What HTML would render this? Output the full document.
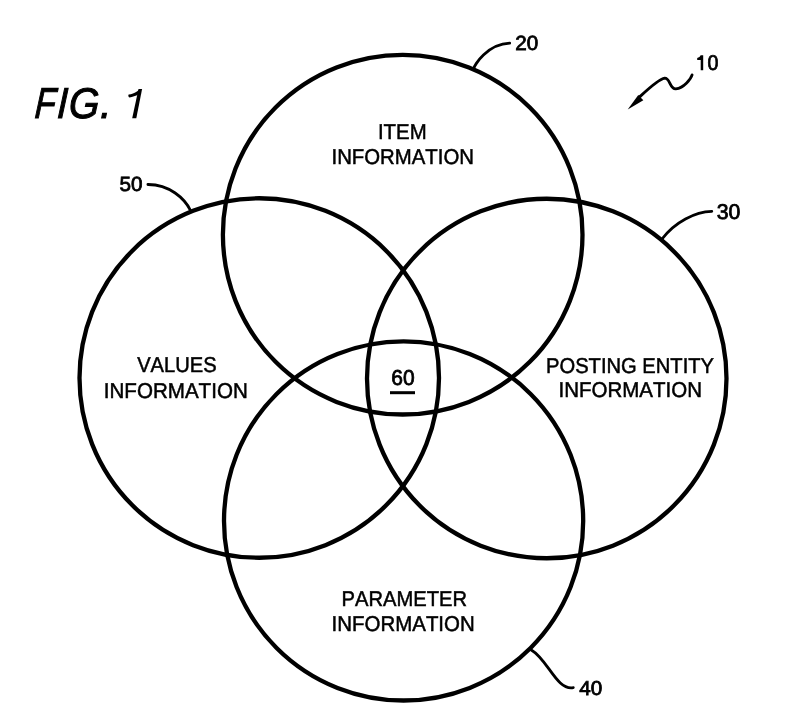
<!DOCTYPE html>
<html><head><meta charset="utf-8">
<style>
html,body{margin:0;padding:0;background:#fff;}
body{width:800px;height:726px;overflow:hidden;}
svg{display:block;will-change:transform;}
text{font-family:"Liberation Sans",sans-serif;fill:#000;font-kerning:none;text-rendering:geometricPrecision;}
.lbl{font-size:21.4px;stroke:#000;stroke-width:0.5px;}
.num{font-size:21.6px;stroke:#000;stroke-width:0.8px;}
.fig{font-size:43.0px;font-style:italic;text-rendering:geometricPrecision;stroke:#000;stroke-width:1.1px;}
</style></head><body>
<svg width="800" height="726" viewBox="0 0 800 726">
<g id="circles" fill="none" stroke="#000" stroke-width="4.3">
<circle cx="402.7" cy="234.7" r="179.8"/>
<circle cx="259.25" cy="378" r="179.75"/>
<circle cx="546.75" cy="378.5" r="179.75"/>
<circle cx="403.6" cy="520.9" r="179.6"/>
</g>
<g id="leaders" fill="none" stroke="#000" stroke-width="2.8" stroke-linecap="round">
<path d="M509.7 43.2 C487.2 44 474.1 65.5 473.8 68.5"/>
<path d="M692.1 74.9 C691 78.7 684.1 88 675.8 88.9 C669.2 88.4 670.3 77.8 664.6 78.1 C658.2 79.1 642.5 94.3 639.5 97"/>
<path d="M711.8 211.4 C695 211.8 675 222 662 239"/>
<path d="M531.3 650 C547.8 659.4 556.6 690.7 573.3 687.6"/>
<path d="M147.9 184.5 C169.5 184.4 184.8 198.6 190.5 210.5"/>
<polygon points="627.7,109.6 638.3,95 643.3,100.2" fill="#000" stroke="none"/>
</g>
<g id="texts">
<text transform="matrix(0.9522 0 0 1 402.27 139.42)" x="0" y="0" text-anchor="middle" class="lbl">ITEM</text>
<text transform="matrix(0.9508 0 0 1 402.71 164.21)" x="0" y="0" text-anchor="middle" class="lbl">INFORMATION</text>
<text transform="matrix(0.9406 0 0 1 176.88 372.01)" x="0" y="0" text-anchor="middle" class="lbl">VALUES</text>
<text transform="matrix(0.9616 0 0 1 175.75 397.60)" x="0" y="0" text-anchor="middle" class="lbl">INFORMATION</text>
<text transform="matrix(0.9423 0 0 1 630.04 372.90)" x="0" y="0" text-anchor="middle" class="lbl">POSTING ENTITY</text>
<text transform="matrix(0.9583 0 0 1 630.21 397.10)" x="0" y="0" text-anchor="middle" class="lbl">INFORMATION</text>
<text transform="matrix(0.9427 0 0 1 404.27 605.80)" x="0" y="0" text-anchor="middle" class="lbl">PARAMETER</text>
<text transform="matrix(0.9560 0 0 1 403.16 630.72)" x="0" y="0" text-anchor="middle" class="lbl">INFORMATION</text>
<text transform="matrix(0.7823 0 -0.0643 1 34.34 117.9)" class="fig">F</text><text transform="matrix(0.8830 0 -0.0454 1 56.65 117.9)" class="fig">I</text><text transform="matrix(0.9060 0 -0.0411 1 68.45 117.9)" class="fig">G</text><text transform="matrix(0.9490 0 -0.0331 1 99.95 117.9)" class="fig">.</text><polygon points="138.5,89 142.1,89 136.3,118.2 132.2,118.2"/><path d="M128.7 94.6 C131.5 94 134.5 93.2 137.3 91.2 L139.6 89.3 L138.6 94.2 C135.8 95.9 132.3 97 129.6 97.4 C128.3 97.5 128 95 128.7 94.6 Z"/>
<text transform="matrix(1.0088 0 0 1 515.17 50.24)" x="0" y="0" class="num" style="font-size:20.451023228865257px">20</text>
<text transform="matrix(0.9234 0 0 1 707.51 70.48)" x="0" y="0" class="num" style="font-size:21.24042199774399px">0</text>
<path d="M700.7 55.3 L703.2 55.3 L703.2 70.3 L700.7 70.3 L700.7 59.9 L697.2 59.9 L697.2 57.9 Q699.9 57.7 700.7 55.3 Z"/>
<text transform="matrix(0.9953 0 0 1 716.74 219.29)" x="0" y="0" class="num" style="font-size:21.353783596675587px">30</text>
<text transform="matrix(1.0303 0 0 1 579.15 694.81)" x="0" y="0" class="num" style="font-size:20.09717354148523px">40</text>
<text transform="matrix(1.0064 0 0 1 119.41 191.46)" x="0" y="0" class="num" style="font-size:20.552485634131692px">50</text>
<text transform="matrix(0.9752 0 0 1 391.37 384.99)" x="0" y="0" class="num" style="font-size:21.50353669372879px">60</text>
<rect x="390" y="391.2" width="25" height="3"/>
</g>
</svg>
</body></html>
